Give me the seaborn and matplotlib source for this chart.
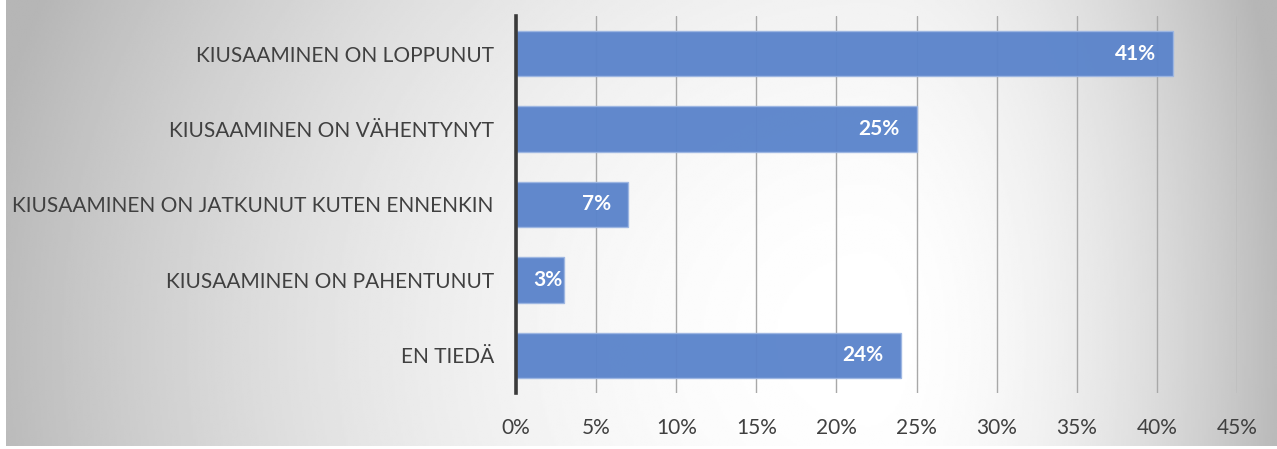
import numpy as np
import pandas as pd
import matplotlib
matplotlib.use("Agg")
import matplotlib.pyplot as plt
import seaborn as sns

# chart data
categories = [
    "KIUSAAMINEN ON LOPPUNUT",
    "KIUSAAMINEN ON VÄHENTYNYT",
    "KIUSAAMINEN ON JATKUNUT KUTEN ENNENKIN",
    "KIUSAAMINEN ON PAHENTUNUT",
    "EN TIEDÄ",
]
values = [41, 25, 7, 3, 24]
xticks = [0, 5, 10, 15, 20, 25, 30, 35, 40, 45]

df = pd.DataFrame({"cat": categories, "val": values})

sns.set_theme(style="white")
plt.rcParams["font.family"] = ["Lato", "DejaVu Sans"]

W, H = 1277, 449
fig = plt.figure(figsize=(W / 100, H / 100), dpi=100)
fig.patch.set_facecolor("white")

# radial grey background (white near lower middle, grey at edges)
bg = fig.add_axes([6 / W, 3 / H, 1 - 6 / W, 1 - 3 / H], zorder=0)
gx, gy = np.meshgrid(np.linspace(6, W, 600), np.linspace(0, H - 3, 220))
cx, cy = 870, 340
dx = np.where(gx < cx, (gx - cx) / 860, (gx - cx) / 400)
dy = (gy - cy) / 800
d = np.clip(np.sqrt(dx ** 2 + dy ** 2), 0, 1.05)
shade = 1 - 0.26 * d ** 1.9
bg.imshow(shade, cmap="gray", vmin=0, vmax=1, aspect="auto", interpolation="bilinear")
bg.axis("off")

ax = fig.add_axes([516 / W, 1 - 393 / H, (1237 - 516) / W, (393 - 16) / H], zorder=1)
ax.set_facecolor("none")

sns.barplot(data=df, y="cat", x="val", orient="h", color="#5B84CB", saturation=1,
            alpha=0.96, width=0.6, edgecolor="#9DB6E2", linewidth=1.0, ax=ax, zorder=3)

ax.set_xlim(0, 45)
ax.set_xticks(xticks)
ax.set_xticklabels([f"{t}%" for t in xticks])
ax.grid(axis="x", color="#a8a8a8", linewidth=1.0, zorder=0)
ax.set_axisbelow(True)
ax.set_xlabel("")
ax.set_ylabel("")

for s in ["top", "right", "bottom"]:
    ax.spines[s].set_visible(False)
ax.spines["left"].set_color("#3a3a3a")
ax.spines["left"].set_linewidth(2.6)
ax.spines["left"].set_zorder(5)

ax.tick_params(axis="x", length=0, pad=18, labelsize=15, labelcolor="#404040")
ax.tick_params(axis="y", length=0, pad=16, labelsize=15, labelcolor="#404040")

# data labels inside bar ends
for i, v in enumerate(values):
    off = -12 if v > 5 else -1
    ax.annotate(f"{v}%", xy=(v, i), xytext=(off, 0), textcoords="offset points",
                ha="right", va="center", color="white", fontsize=15,
                fontweight="bold", zorder=6)

fig.savefig("out.png", dpi=100)
